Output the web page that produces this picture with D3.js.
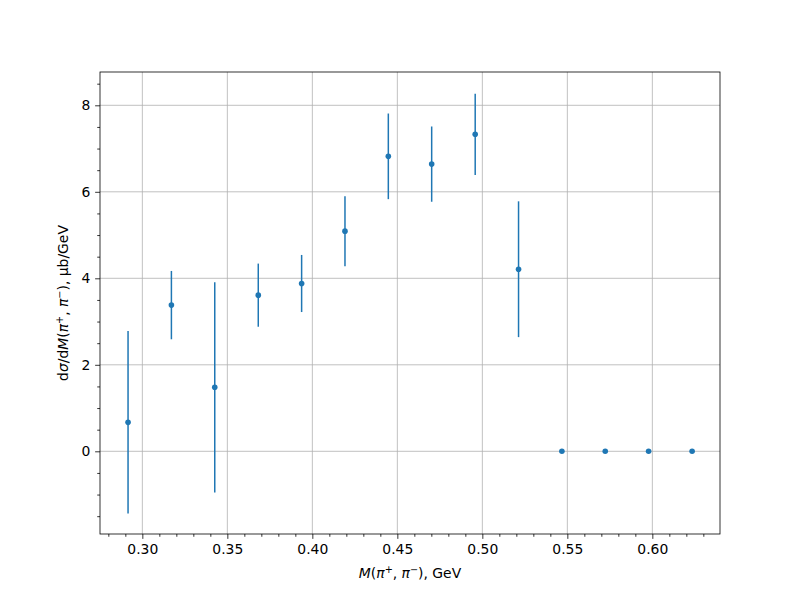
<!DOCTYPE html>
<html><head><meta charset="utf-8">
<script src="https://cdn.jsdelivr.net/npm/d3@7"></script>
<style>body{margin:0;background:#fff}svg text{font-family:"DejaVu Sans",sans-serif;}</style>
</head><body><svg id="c" width="800" height="600"></svg>
<script>
const massX = [0.2916, 0.3171, 0.3426, 0.3682, 0.3937, 0.4192, 0.4447, 0.4702, 0.4958, 0.5213, 0.5468, 0.5723, 0.5978, 0.6234];
const xsec = [0.67, 3.38, 1.48, 3.61, 3.88, 5.09, 6.82, 6.64, 7.33, 4.21, 0, 0, 0, 0];
const xsecErr = [2.11, 0.79, 2.43, 0.73, 0.66, 0.81, 0.99, 0.87, 0.94, 1.57, 0, 0, 0, 0];
const xTicks = [0.30, 0.35, 0.40, 0.45, 0.50, 0.55, 0.60];
const yTicks = [0, 2, 4, 6, 8];

const svg = d3.select("#c");
const L = 100, R = 720, T = 72, B = 534;
const x = d3.scaleLinear().domain([0.2751, 0.6398]).range([L, R]);
const y = d3.scaleLinear().domain([-1.912, 8.77]).range([B, T]);
const blue = "#1f77b4";

// grid
const g = svg.append("g");
g.selectAll(".gx").data(xTicks).join("line")
  .attr("x1", d => x(d)).attr("x2", d => x(d)).attr("y1", T).attr("y2", B)
  .attr("stroke", "#b0b0b0").attr("stroke-width", 0.8);
g.selectAll(".gy").data(yTicks).join("line")
  .attr("y1", d => y(d)).attr("y2", d => y(d)).attr("x1", L).attr("x2", R)
  .attr("stroke", "#b0b0b0").attr("stroke-width", 0.8);

// axes
const xMinor = d3.range(0.28, 0.6395, 0.01).filter(v => !xTicks.some(t => Math.abs(t - v) < 1e-6));
const yMinor = d3.range(-1.5, 8.8, 0.5).filter(v => !yTicks.some(t => Math.abs(t - v) < 1e-6));

const xAx = svg.append("g").attr("transform", `translate(0,${B})`)
  .call(d3.axisBottom(x).tickValues(xTicks).tickFormat(d3.format(".2f")).tickSize(4.86).tickPadding(4.86));
const xAxMin = svg.append("g").attr("transform", `translate(0,${B})`)
  .call(d3.axisBottom(x).tickValues(xMinor).tickFormat("").tickSize(2.78));
const yAx = svg.append("g").attr("transform", `translate(${L},0)`)
  .call(d3.axisLeft(y).tickValues(yTicks).tickFormat(d3.format("d")).tickSize(4.86).tickPadding(4.86));
const yAxMin = svg.append("g").attr("transform", `translate(${L},0)`)
  .call(d3.axisLeft(y).tickValues(yMinor).tickFormat("").tickSize(2.78));
[xAx, xAxMin, yAx, yAxMin].forEach(a => {
  a.select(".domain").remove();
  a.selectAll(".tick line").attr("stroke", "#000").attr("stroke-width", 0.8);
  a.selectAll(".tick text").attr("font-size", "13.9px").attr("fill", "#000").attr("font-family", "DejaVu Sans");
});

// frame
svg.append("rect").attr("x", L).attr("y", T).attr("width", R - L).attr("height", B - T)
  .attr("fill", "none").attr("stroke", "#000").attr("stroke-width", 0.8);

// error bars
const pts = massX.map((m, i) => ({m, v: xsec[i], e: xsecErr[i]}));
svg.append("g").selectAll("line").data(pts.filter(d => d.e > 0)).join("line")
  .attr("x1", d => x(d.m)).attr("x2", d => x(d.m))
  .attr("y1", d => y(d.v - d.e)).attr("y2", d => y(d.v + d.e))
  .attr("stroke", blue).attr("stroke-width", 1.5);
svg.append("g").selectAll("circle").data(pts).join("circle")
  .attr("cx", d => x(d.m)).attr("cy", d => y(d.v)).attr("r", 2.8).attr("fill", blue);

// labels
const xl = svg.append("text").attr("x", (L + R) / 2).attr("y", 578).attr("text-anchor", "middle")
  .attr("font-size", "13.9px").attr("fill", "#000");
xl.append("tspan").attr("font-style", "italic").text("M");
xl.append("tspan").text("(");
xl.append("tspan").attr("font-style", "italic").text("π");
xl.append("tspan").attr("font-size", "9.7px").attr("dy", -5).text("+");
xl.append("tspan").attr("dy", 5).text(", ");
xl.append("tspan").attr("font-style", "italic").text("π");
xl.append("tspan").attr("font-size", "9.7px").attr("dy", -5).text("−");
xl.append("tspan").attr("dy", 5).text("), GeV");

const yl = svg.append("text").attr("transform", `translate(68,${(T + B) / 2}) rotate(-90)`)
  .attr("text-anchor", "middle").attr("font-size", "13.9px").attr("fill", "#000");
yl.append("tspan").text("d");
yl.append("tspan").attr("font-style", "italic").text("σ");
yl.append("tspan").text("/d");
yl.append("tspan").attr("font-style", "italic").text("M");
yl.append("tspan").text("(");
yl.append("tspan").attr("font-style", "italic").text("π");
yl.append("tspan").attr("font-size", "9.7px").attr("dy", -5).text("+");
yl.append("tspan").attr("dy", 5).text(", ");
yl.append("tspan").attr("font-style", "italic").text("π");
yl.append("tspan").attr("font-size", "9.7px").attr("dy", -5).text("−");
yl.append("tspan").attr("dy", 5).text("), μb/GeV");
</script></body></html>
